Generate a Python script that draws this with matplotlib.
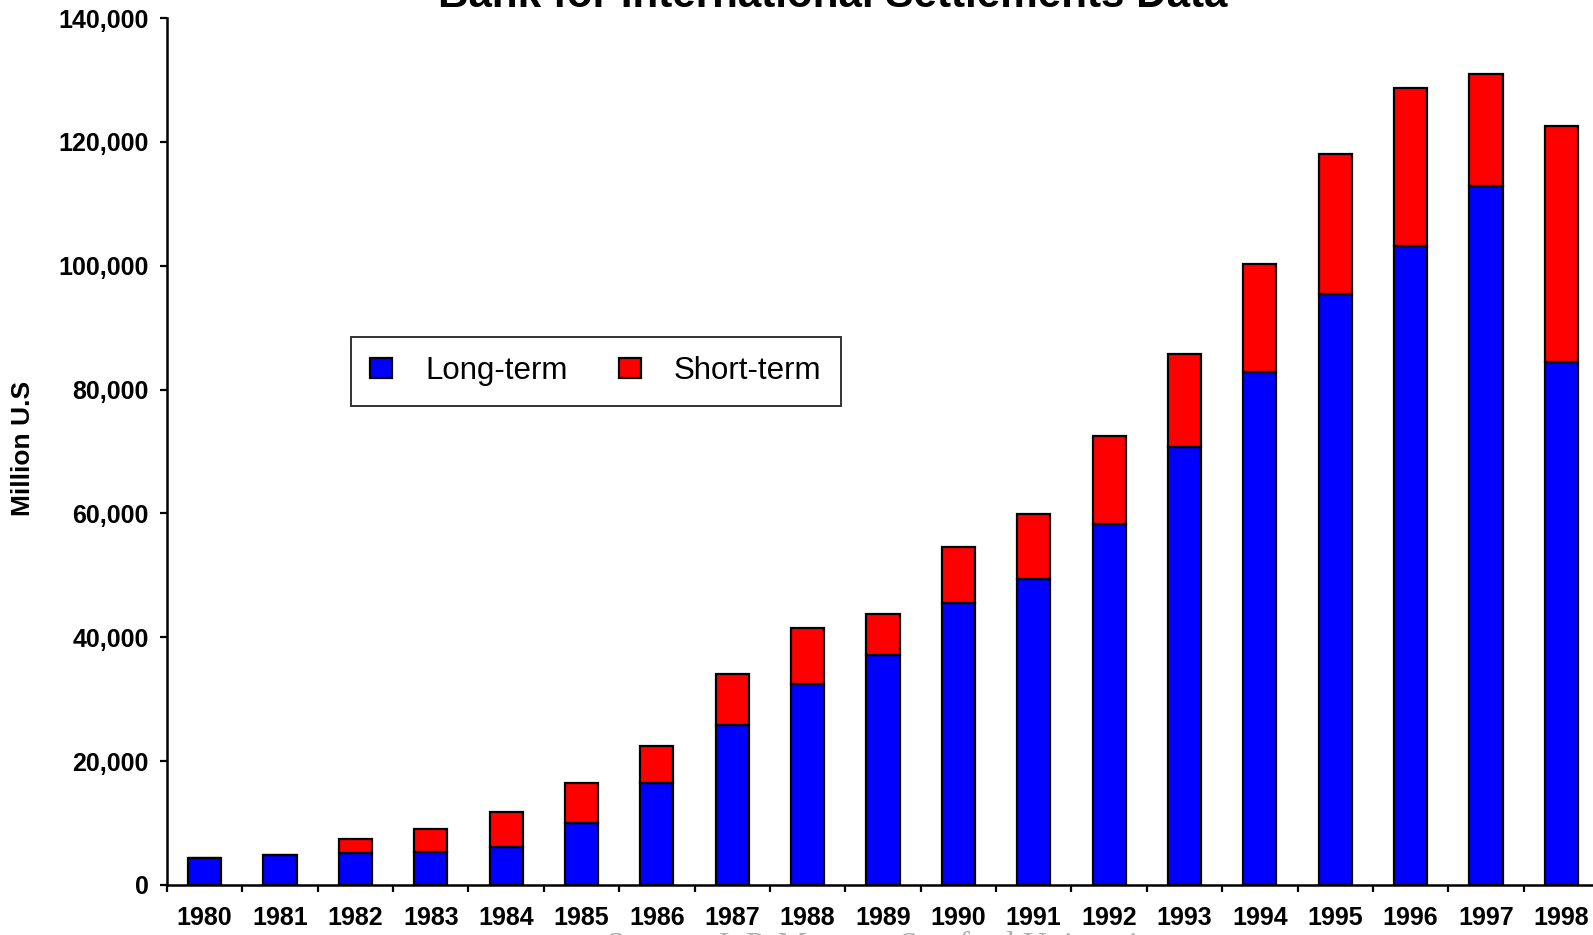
import numpy as np
import matplotlib
matplotlib.use("Agg")
import matplotlib.pyplot as plt

# capital flows, million US$
years = ["1980", "1981", "1982", "1983", "1984", "1985", "1986", "1987", "1988", "1989",
         "1990", "1991", "1992", "1993", "1994", "1995", "1996", "1997", "1998"]
long_term = [4400, 4800, 5100, 5400, 6200, 10000, 16400, 25800, 32500, 37100,
             45500, 49400, 58300, 70700, 82900, 95500, 103200, 112800, 84500]
total = [4400, 4800, 7400, 9000, 11800, 16400, 22500, 34100, 41500, 43800,
         54500, 59900, 72500, 85800, 100300, 118000, 128700, 131000, 122600]
short_term = [t - l for t, l in zip(total, long_term)]

plt.rcParams["font.family"] = "Liberation Sans"

fig = plt.figure(figsize=(15.93, 9.35), dpi=100)
W, H = 1593, 935
ax = fig.add_axes([167 / W, 1 - 885 / H, (1599 - 167) / W, (885 - 18) / H])

x = np.arange(len(years))
ax.bar(x, long_term, width=0.44, color="#0000ff", edgecolor="black", linewidth=1.6,
       label="Long-term", zorder=3)
ax.bar(x, short_term, width=0.44, bottom=long_term, color="#ff0000", edgecolor="black",
       linewidth=1.6, label="Short-term", zorder=3)

ax.set_xlim(-0.5, len(years) - 0.5)
ax.set_ylim(0, 140000)
ax.set_yticks(np.arange(0, 140001, 20000))
ax.set_yticklabels([f"{v:,}" for v in range(0, 140001, 20000)],
                   fontweight="bold", fontsize=18)
ax.set_xticks(x)
ax.set_xticklabels(years, fontweight="bold", fontsize=18)
ax.set_xticks(np.arange(-0.5, len(years) - 0.4, 1), minor=True)
ax.tick_params(axis="x", which="major", length=0, pad=15)
ax.tick_params(axis="x", which="minor", length=5, width=1.6, direction="out")
ax.tick_params(axis="y", length=5, width=1.6, direction="out", pad=8)

for s in ["top", "right"]:
    ax.spines[s].set_visible(False)
for s in ["left", "bottom"]:
    ax.spines[s].set_linewidth(1.8)

fig.text(23 / W, 1 - 448 / H, "Million U.S", rotation=90, ha="center", va="center",
         fontweight="bold", fontsize=19)

leg = ax.legend(loc="upper left", bbox_to_anchor=(351 / W, 1 - 337 / H),
                bbox_transform=fig.transFigure, ncol=2, frameon=True, fancybox=False,
                prop={"size": 22.5},
                handlelength=0.7, handleheight=0.6, handletextpad=1.05,
                columnspacing=1.65, borderpad=0.62, borderaxespad=0)
leg.get_frame().set_edgecolor("black")
leg.get_frame().set_linewidth(1.4)

fig.text(833 / W, 1 - 7 / H, "Bank for International Settlements Data",
         ha="center", va="baseline", fontweight="bold", fontsize=30.3)
fig.text(885 / W, 1 - 931 / H, "Source: J. P. Morgan, Stanford University",
         ha="center", va="top", fontfamily="Liberation Serif", fontsize=24, color="#b0b0b0")

fig.savefig("out.png", dpi=100)
